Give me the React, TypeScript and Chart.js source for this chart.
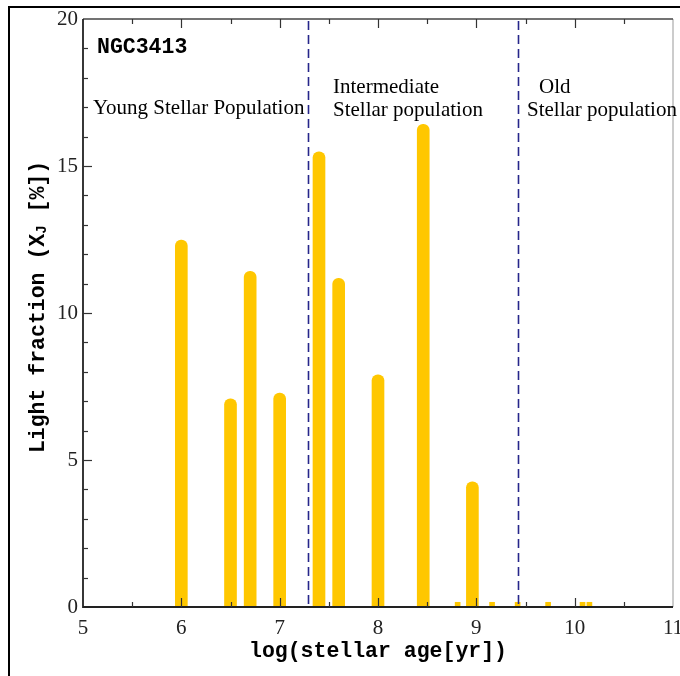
import React, { useEffect, useRef } from "react";
import { Chart, registerables } from "chart.js";

Chart.register(...registerables);

// log(stellar age [yr]) of each population bin and its light fraction (%)
const ages = [6.0, 6.5, 6.7, 7.0, 7.4, 7.6, 8.0, 8.46, 8.96];
const fractions = [12.48, 7.08, 11.42, 7.28, 15.48, 11.18, 7.9, 16.42, 4.26];
// tiny contributions
const smallAges = [8.81, 9.16, 9.42, 9.73, 10.08, 10.15];
const smallFractions = [0.16, 0.16, 0.16, 0.16, 0.16, 0.16];
// population boundaries (dashed lines)
const boundaries = [7.29, 9.42];
const xMin = 5;
const xMax = 11;
const yMin = 0;
const yMax = 20;
const objectName = "NGC3413";
const regionLabels = [
  { lines: ["Young Stellar Population"] },
  { lines: ["Intermediate", "Stellar population"] },
  { lines: ["Old", "Stellar population"] },
];

const SERIF = "'Liberation Serif', 'Times New Roman', serif";
const MONO = "'Liberation Mono', 'Courier New', monospace";
const BAR_COLOR = "#FFC700";

const decorPlugin = {
  id: "decor",
  afterDatasetsDraw(chart: any) {
    const { ctx, chartArea, scales } = chart;
    const { left, right, top, bottom } = chartArea;
    const x = scales.x;
    const y = scales.y;
    ctx.save();

    // dashed boundaries
    ctx.strokeStyle = "#26268a";
    ctx.lineWidth = 1.6;
    ctx.setLineDash([9, 5]);
    boundaries.forEach((b) => {
      const px = Math.round(x.getPixelForValue(b)) + 0.5;
      ctx.beginPath();
      ctx.moveTo(px, top + 2);
      ctx.lineTo(px, bottom);
      ctx.stroke();
    });
    ctx.setLineDash([]);

    // frame
    ctx.lineWidth = 1.5;
    ctx.strokeStyle = "#bbbbbb";
    ctx.beginPath();
    ctx.moveTo(right, top);
    ctx.lineTo(right, bottom);
    ctx.stroke();
    ctx.strokeStyle = "#444444";
    ctx.beginPath();
    ctx.moveTo(left, top);
    ctx.lineTo(right, top);
    ctx.stroke();
    ctx.strokeStyle = "#222222";
    ctx.lineWidth = 1.8;
    ctx.beginPath();
    ctx.moveTo(left, top);
    ctx.lineTo(left, bottom);
    ctx.lineTo(right, bottom);
    ctx.stroke();

    // ticks
    ctx.lineWidth = 1.2;
    ctx.strokeStyle = "#333333";
    for (let v = xMin + 0.5; v < xMax; v += 0.5) {
      const px = Math.round(x.getPixelForValue(v)) + 0.5;
      const major = Math.abs(v - Math.round(v)) < 1e-6;
      const len = major ? 9 : 5;
      ctx.beginPath();
      ctx.moveTo(px, bottom);
      ctx.lineTo(px, bottom - len);
      ctx.moveTo(px, top);
      ctx.lineTo(px, top + len);
      ctx.stroke();
    }
    for (let v = yMin + 1; v < yMax; v += 1) {
      const py = Math.round(y.getPixelForValue(v)) + 0.5;
      const major = v % 5 === 0;
      const len = major ? 9 : 5;
      ctx.beginPath();
      ctx.moveTo(left, py);
      ctx.lineTo(left + len, py);
      ctx.stroke();
    }

    // annotations
    ctx.fillStyle = "#000";
    ctx.textBaseline = "alphabetic";
    ctx.textAlign = "left";
    ctx.font = `bold 21.5px ${MONO}`;
    ctx.fillText(objectName, left + 14, top + 34);

    ctx.font = `21px ${SERIF}`;
    ctx.fillText(regionLabels[0].lines[0], left + 10, top + 95);
    ctx.fillText(regionLabels[1].lines[0], left + 250, top + 74);
    ctx.fillText(regionLabels[1].lines[1], left + 250, top + 97);
    ctx.fillText(regionLabels[2].lines[0], left + 456, top + 74);
    ctx.fillText(regionLabels[2].lines[1], left + 444, top + 97);

    ctx.restore();
  },
  afterDraw(chart: any) {
    const { ctx, chartArea } = chart;
    const { left, right, bottom } = chartArea;
    ctx.save();
    // outer figure border
    ctx.strokeStyle = "#000";
    ctx.lineWidth = 2;
    ctx.beginPath();
    ctx.moveTo(9, chart.height);
    ctx.lineTo(9, 7);
    ctx.lineTo(chart.width, 7);
    ctx.stroke();

    // x title
    ctx.fillStyle = "#000";
    ctx.font = `bold 21.5px ${MONO}`;
    ctx.textAlign = "center";
    ctx.textBaseline = "middle";
    ctx.fillText("log(stellar age[yr])", (left + right) / 2, bottom + 45);

    // y title with subscript
    const parts = [
      { t: "Light fraction (X", f: `bold 21.5px ${MONO}`, dy: 0 },
      { t: "J", f: `bold 14px ${MONO}`, dy: 3 },
      { t: " [%])", f: `bold 21.5px ${MONO}`, dy: 0 },
    ];
    let total = 0;
    parts.forEach((p) => {
      ctx.font = p.f;
      total += ctx.measureText(p.t).width;
    });
    ctx.translate(39, 307);
    ctx.rotate(-Math.PI / 2);
    ctx.textAlign = "left";
    let cx = -total / 2;
    parts.forEach((p) => {
      ctx.font = p.f;
      ctx.fillText(p.t, cx, p.dy);
      cx += ctx.measureText(p.t).width;
    });
    ctx.restore();
  },
};

export default function App() {
  const canvasRef = useRef<HTMLCanvasElement | null>(null);

  useEffect(() => {
    const canvas = canvasRef.current;
    if (!canvas) return;
    const chart = new Chart(canvas, {
      type: "bar",
      data: {
        datasets: [
          {
            data: ages.map((a, i) => ({ x: a, y: fractions[i] })),
            backgroundColor: BAR_COLOR,
            barThickness: 12,
            borderRadius: { topLeft: 6, topRight: 6, bottomLeft: 0, bottomRight: 0 },
            borderSkipped: "bottom",
            grouped: false,
          },
          {
            data: smallAges.map((a, i) => ({ x: a, y: smallFractions[i] })),
            backgroundColor: BAR_COLOR,
            barThickness: 5,
            grouped: false,
          },
        ],
      },
      options: {
        responsive: false,
        animation: false,
        maintainAspectRatio: false,
        layout: { padding: { top: 19, right: 7, left: 0, bottom: 0 } },
        plugins: { legend: { display: false }, tooltip: { enabled: false } },
        scales: {
          x: {
            type: "linear",
            min: xMin,
            max: xMax,
            offset: false,
            grid: { display: false, drawTicks: false },
            border: { display: false },
            ticks: {
              stepSize: 1,
              padding: 9,
              color: "#222",
              font: { family: SERIF, size: 21 },
              maxRotation: 0,
            },
            afterFit(scale: any) {
              scale.height = 69;
              scale.paddingLeft = 0;
              scale.paddingRight = 0;
            },
          },
          y: {
            type: "linear",
            min: yMin,
            max: yMax,
            grid: { display: false, drawTicks: false },
            border: { display: false },
            ticks: {
              stepSize: 5,
              padding: 5,
              color: "#222",
              font: { family: SERIF, size: 21 },
            },
            afterFit(scale: any) {
              scale.width = 83;
              scale.paddingTop = 0;
              scale.paddingBottom = 0;
            },
          },
        },
      },
      plugins: [decorPlugin],
    });
    return () => chart.destroy();
  }, []);

  return (
    <div style={{ position: "absolute", left: 0, top: 0, width: 680, height: 676, background: "#fff" }}>
      <canvas ref={canvasRef} width={680} height={676} style={{ width: 680, height: 676 }} />
    </div>
  );
}
